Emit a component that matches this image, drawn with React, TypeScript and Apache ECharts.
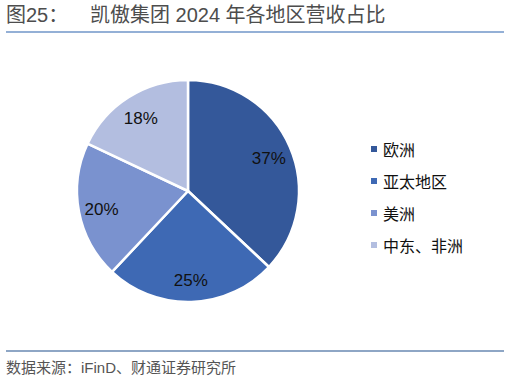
import React, { useEffect, useRef } from "react";
import * as echarts from "echarts";

const regions = ["欧洲", "亚太地区", "美洲", "中东、非洲"];
const shares = [37, 25, 20, 18];
const colors = ["#34589A", "#3E69B4", "#7A92CF", "#B3BEE0"];
const titleLabel = "图25：";
const titleText = "凯傲集团 2024 年各地区营收占比";
const sourceText = "数据来源：iFinD、财通证券研究所";

export default function App() {
  const ref = useRef<HTMLDivElement>(null);
  useEffect(() => {
    const chart = echarts.init(ref.current!, null, { renderer: "svg" });
    const data = regions.map((n, i) => ({ name: n, value: shares[i], itemStyle: { color: colors[i] } }));
    chart.setOption({
      animation: false,
      backgroundColor: "#ffffff",
      legend: {
        orient: "vertical",
        left: 364,
        top: 136,
        itemWidth: 8,
        itemHeight: 8,
        itemGap: 16,
        icon: "rect",
        data: regions,
        textStyle: { fontSize: 16, color: "#111", fontFamily: "Noto Sans CJK SC" },
      },
      graphic: [
        { type: "text", left: 6, top: 5, style: { text: titleLabel, fontSize: 20, fill: "#4d4d4d", fontFamily: "Liberation Sans, Noto Sans CJK SC" } },
        { type: "text", left: 90, top: 5, style: { text: titleText, fontSize: 20, fill: "#4d4d4d", fontFamily: "Liberation Sans, Noto Sans CJK SC" } },
        { type: "line", shape: { x1: 6, y1: 32, x2: 504, y2: 32 }, style: { stroke: "#2A62AE", lineWidth: 1.2 } },
        { type: "line", shape: { x1: 6, y1: 351, x2: 504, y2: 351 }, style: { stroke: "#1F4E8C", lineWidth: 1.2 } },
        { type: "text", left: 6, top: 360, style: { text: sourceText, fontSize: 15, fill: "#555", fontFamily: "Liberation Sans, Noto Sans CJK SC" } },
      ],
      series: [
        {
          type: "pie",
          center: [188, 191],
          radius: [0, 111],
          startAngle: 90,
          clockwise: true,
          data,
          itemStyle: { borderColor: "#fff", borderWidth: 2.5 },
          label: { show: false },
          labelLine: { show: false },
          silent: true,
        },
        {
          type: "pie",
          center: [188, 193],
          radius: [0, 170],
          startAngle: 90,
          clockwise: true,
          data: regions.map((n, i) => ({ name: n, value: shares[i], itemStyle: { color: "rgba(0,0,0,0)" } })),
          label: {
            show: true,
            position: "inside",
            formatter: "{c}%",
            fontSize: 17,
            color: "#111",
            fontFamily: "Liberation Sans",
          },
          labelLine: { show: false },
          silent: true,
          z: 3,
        },
      ],
    });
    return () => chart.dispose();
  }, []);
  return <div ref={ref} style={{ width: 510, height: 381, position: "absolute", left: 0, top: 0 }} />;
}
